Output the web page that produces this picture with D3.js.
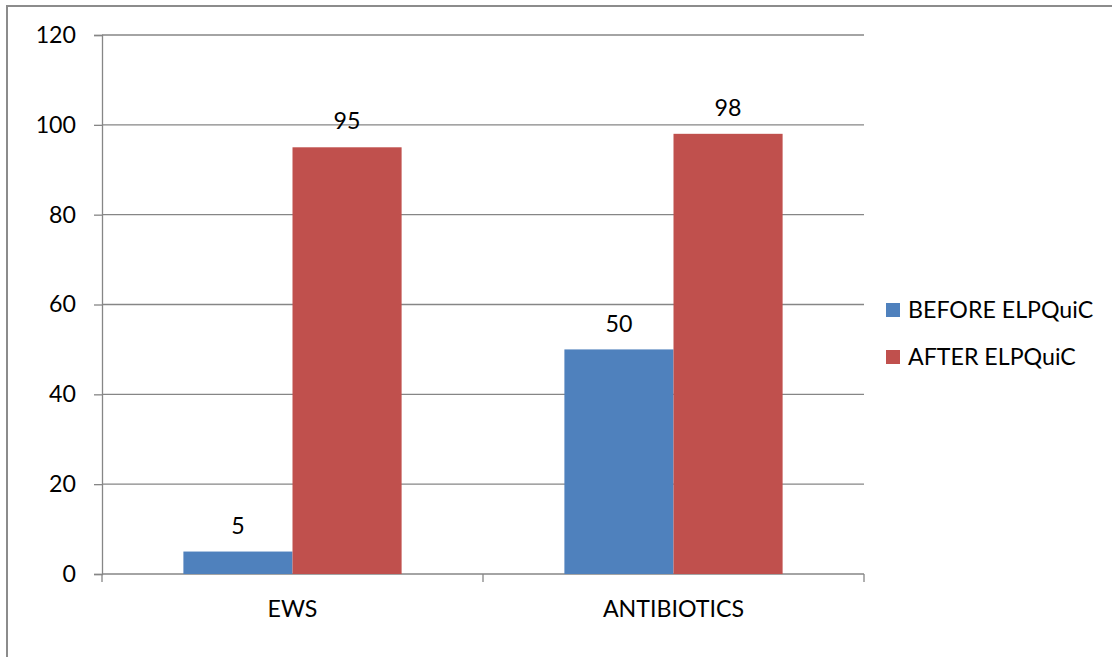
<!DOCTYPE html>
<html>
<head>
<meta charset="utf-8">
<script src="https://cdn.jsdelivr.net/npm/d3@7"></script>
<style>
  html, body { margin: 0; padding: 0; background: #fff; }
  svg { display: block; font-family: Lato, "Open Sans", sans-serif; }
</style>
</head>
<body>
<svg id="chart" width="1112" height="657"></svg>
<script>
const categories = ["EWS", "ANTIBIOTICS"];
const seriesNames = ["BEFORE ELPQuiC", "AFTER ELPQuiC"];
const beforeValues = [5, 50];
const afterValues = [95, 98];
const yTicks = [0, 20, 40, 60, 80, 100, 120];
const seriesColors = ["#4F81BD", "#C0504D"];

const svg = d3.select("#chart");
const plot = { left: 102, right: 864, top: 35, bottom: 574 };
const fontSize = 23.2;

// outer chart frame
svg.append("rect")
  .attr("x", 7).attr("y", 6)
  .attr("width", 1140).attr("height", 700)
  .attr("fill", "none").attr("stroke", "#8c8c8c").attr("stroke-width", 2);

const x0 = d3.scaleBand().domain(categories).range([plot.left, plot.right]).paddingInner(0).paddingOuter(0);
const x1 = d3.scaleBand().domain(seriesNames).range([0, x0.bandwidth()]).paddingInner(0).paddingOuter(0.746);
const y = d3.scaleLinear().domain([0, 120]).range([plot.bottom, plot.top]);

// horizontal gridlines
svg.append("g").selectAll("line").data(yTicks.filter(d => d > 0)).join("line")
  .attr("x1", plot.left).attr("x2", plot.right)
  .attr("y1", d => y(d)).attr("y2", d => y(d))
  .attr("stroke", "#868686").attr("stroke-width", 1.3);

// y axis
const yAxis = svg.append("g").attr("transform", `translate(${plot.left},0)`)
  .call(d3.axisLeft(y).tickValues(yTicks).tickSize(8).tickPadding(18));
yAxis.select(".domain").attr("stroke", "#868686").attr("stroke-width", 1.3);
yAxis.selectAll(".tick line").attr("stroke", "#868686").attr("stroke-width", 1.3);
yAxis.selectAll("text").attr("font-size", fontSize).attr("fill", "#000").attr("font-family", "Lato, sans-serif");

// x axis with boundary ticks between categories
const xAxis = svg.append("g").attr("transform", `translate(0,${plot.bottom})`);
xAxis.append("line").attr("x1", plot.left).attr("x2", plot.right)
  .attr("stroke", "#868686").attr("stroke-width", 1.3);
const boundaries = categories.map(c => x0(c)).concat([x0(categories[categories.length - 1]) + x0.bandwidth()]);
xAxis.selectAll("line.tk").data(boundaries).join("line").attr("class", "tk")
  .attr("x1", d => d).attr("x2", d => d).attr("y1", 0).attr("y2", 8)
  .attr("stroke", "#868686").attr("stroke-width", 1.3);
xAxis.selectAll("text").data(categories).join("text")
  .attr("x", d => x0(d) + x0.bandwidth() / 2).attr("y", 35)
  .attr("dy", "0.35em")
  .attr("text-anchor", "middle").attr("font-size", fontSize).attr("fill", "#000")
  .text(d => d);

// bars
const rows = categories.map((c, i) => ({ category: c, values: [beforeValues[i], afterValues[i]] }));
const groups = svg.append("g").selectAll("g").data(rows).join("g")
  .attr("transform", d => `translate(${x0(d.category)},0)`);
groups.selectAll("rect").data(d => d.values.map((v, j) => ({ key: seriesNames[j], value: v, idx: j }))).join("rect")
  .attr("x", d => x1(d.key)).attr("width", x1.bandwidth())
  .attr("y", d => y(d.value)).attr("height", d => y(0) - y(d.value))
  .attr("fill", d => seriesColors[d.idx]);

// value labels
groups.selectAll("text").data(d => d.values.map((v, j) => ({ key: seriesNames[j], value: v }))).join("text")
  .attr("x", d => x1(d.key) + x1.bandwidth() / 2)
  .attr("y", d => y(d.value) - 26).attr("dy", "0.35em")
  .attr("text-anchor", "middle").attr("font-size", fontSize).attr("fill", "#000")
  .text(d => d.value);

// legend
const legend = svg.append("g").selectAll("g").data(seriesNames).join("g")
  .attr("transform", (d, i) => `translate(886,${303 + i * 47})`);
legend.append("rect").attr("width", 14).attr("height", 14)
  .attr("fill", (d, i) => seriesColors[i]);
legend.append("text").attr("x", 22).attr("y", 7).attr("dy", "0.35em")
  .attr("font-size", fontSize).attr("fill", "#000").text(d => d);
</script>
</body>
</html>
